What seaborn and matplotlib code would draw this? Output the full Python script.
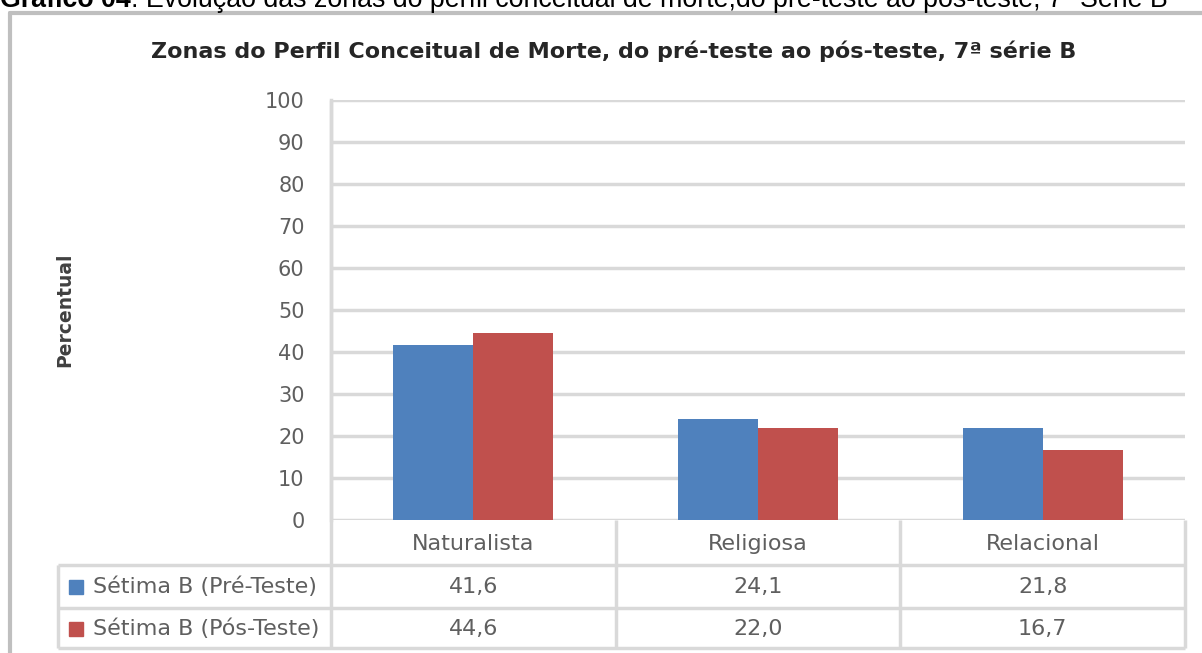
import matplotlib
matplotlib.use("Agg")
import matplotlib.pyplot as plt
import pandas as pd
import seaborn as sns

# data
categories = ["Naturalista", "Religiosa", "Relacional"]
series_names = ["Sétima B (Pré-Teste)", "Sétima B (Pós-Teste)"]
pre_teste = [41.6, 24.1, 21.8]
pos_teste = [44.6, 22.0, 16.7]
colors = ["#4F81BD", "#C0504D"]

caption_bold = "Gráfico 04"
caption_rest = ": Evolução das zonas do perfil conceitual de morte,do pré-teste ao pós-teste, 7ª Série B"
title = "Zonas do Perfil Conceitual de Morte, do pré-teste ao pós-teste, 7ª série B"
ylabel = "Percentual"

df = pd.DataFrame({
    "zona": categories * 2,
    "serie": [series_names[0]] * 3 + [series_names[1]] * 3,
    "valor": pre_teste + pos_teste,
})

sns.set_style("white")
plt.rcParams["font.family"] = ["DejaVu Sans"]

W, H = 1202, 653
fig = plt.figure(figsize=(W / 100, H / 100), dpi=100)
ax = fig.add_axes([331 / W, 1 - 520 / H, 854 / W, 420 / H])

sns.barplot(data=df, x="zona", y="valor", hue="serie", palette=colors,
            width=0.562, gap=0, saturation=1, ax=ax, legend=False,
            edgecolor="none")

grid = "#d9d9d9"
txt_gray = "#5f5f5f"
fs = 16
ax.set_ylim(0, 100)
ax.set_xlim(-0.5, len(categories) - 0.5)
ax.set_yticks(range(0, 101, 10))
ax.yaxis.grid(True, color=grid, lw=2.5)
ax.set_axisbelow(True)
for s in ["top", "right", "bottom"]:
    ax.spines[s].set_visible(False)
ax.spines["left"].set_color(grid)
ax.spines["left"].set_linewidth(2.5)
ax.tick_params(axis="y", length=0, pad=19, labelsize=15, labelcolor=txt_gray)
ax.tick_params(axis="x", bottom=False, labelbottom=False)
ax.set_xlabel("")
ax.set_ylabel("")

# data table under the plot (x in data units, y in axes fraction)
trans = ax.get_xaxis_transform()
def yf(px):
    return (520 - px) / 420
def xd(px):
    return -0.5 + (px - 331) / (854 / len(categories))

x_left = xd(58)
x_right = len(categories) - 0.5
line_kw = dict(color=grid, lw=2.5, transform=trans, clip_on=False, solid_capstyle="butt")
for ypx in [565, 608, 648]:
    ax.plot([x_left, x_right], [yf(ypx), yf(ypx)], **line_kw)
ax.plot([-0.5, -0.5], [1, yf(648)], **line_kw)
for i in range(len(categories)):
    ax.plot([i + 0.5, i + 0.5], [0, yf(648)], **line_kw)
ax.plot([x_left, x_left], [yf(565), yf(648)], **line_kw)

txt_kw = dict(transform=trans, ha="center", va="center", color=txt_gray, fontsize=fs, clip_on=False)
for i, c in enumerate(categories):
    ax.text(i, yf(544), c, **txt_kw)
for r, (name, vals) in enumerate(zip(series_names, [pre_teste, pos_teste])):
    yc = yf(587 + r * 42)
    for i, v in enumerate(vals):
        ax.text(i, yc, f"{v:.1f}".replace(".", ","), **txt_kw)
    ax.plot([xd(76)], [yc], marker="s", ms=10, color=colors[r], transform=trans, clip_on=False)
    ax.text(xd(93), yc, name, transform=trans, ha="left", va="center",
            color=txt_gray, fontsize=fs, clip_on=False)

fig.text(65 / W, 1 - 310 / H, ylabel, rotation=90, ha="center", va="center",
         fontsize=13.5, fontweight="bold", color="#404040")
fig.text(614 / W, 1 - 51 / H, title, ha="center", va="center",
         fontsize=16, fontweight="bold", color="#262626")

# outer chart border
fig.add_artist(plt.Line2D([10 / W, 10 / W], [0, 1 - 13 / H], color="#bfbfbf", lw=3))
fig.add_artist(plt.Line2D([10 / W, 1], [1 - 13 / H, 1 - 13 / H], color="#bfbfbf", lw=3))

# clipped document caption at the very top
t1 = fig.text(0, 1 - 7 / H, caption_bold, ha="left", va="baseline", fontsize=19.3,
              fontweight="bold", family="Liberation Sans", color="black")
fig.canvas.draw()
bb = t1.get_window_extent()
fig.text(bb.x1 / W, 1 - 7 / H, caption_rest, ha="left", va="baseline", fontsize=19.3,
         family="Liberation Sans", color="black")

fig.savefig("out.png", dpi=100)
